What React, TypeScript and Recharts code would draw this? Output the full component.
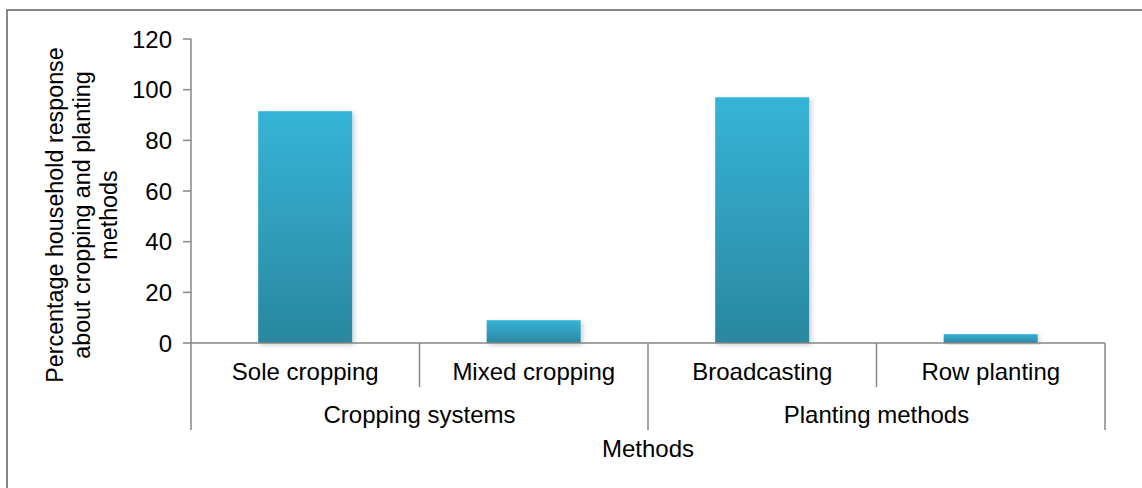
import { Bar, BarChart, XAxis, YAxis } from "recharts";

const categories = ["Sole cropping", "Mixed cropping", "Broadcasting", "Row planting"];
const groups = ["Cropping systems", "Cropping systems", "Planting methods", "Planting methods"];
const responses = [91.5, 9, 97, 3.5];
const yTicks = [0, 20, 40, 60, 80, 100, 120];
const yTitleLines = ["Percentage household response", "about cropping and planting", "methods"];

const data = categories.map((name, i) => ({ name, group: groups[i], value: responses[i] }));

const W = 1142;
const H = 488;
const PLOT_LEFT = 191;
const PLOT_RIGHT = 1105;
const PLOT_TOP = 39;
const PLOT_BOTTOM = 343;
const BAND = (PLOT_RIGHT - PLOT_LEFT) / categories.length;

const AXIS = "#868686";
const FONT = "'Liberation Sans', Arial, sans-serif";
const FS = 24;
const TITLE_FS = 23.3;

// two-level category axis: labels, group labels and the divider lines between them
function CategoryTick(props: any) {
  const { x, y, payload, index } = props;
  const left = x - BAND / 2;
  const startsGroup = index === 0 || groups[index] !== groups[index - 1];
  const isLast = index === categories.length - 1;
  let span = 0;
  if (startsGroup) {
    while (index + span < groups.length && groups[index + span] === groups[index]) span++;
  }
  return (
    <g>
      <text x={x} y={y + 37} textAnchor="middle" fontSize={FS} fill="#000" fontFamily={FONT}>
        {payload.value}
      </text>
      <line x1={left} x2={left} y1={y} y2={y + (startsGroup ? 87 : 44)} stroke={AXIS} strokeWidth={1.5} />
      {isLast && <line x1={left + BAND} x2={left + BAND} y1={y} y2={y + 87} stroke={AXIS} strokeWidth={1.5} />}
      {startsGroup && (
        <text x={left + (span * BAND) / 2} y={y + 80} textAnchor="middle" fontSize={FS} fill="#000" fontFamily={FONT}>
          {groups[index]}
        </text>
      )}
    </g>
  );
}

function YTitle() {
  const cy = 215;
  const baselines = [63, 90, 117];
  return (
    <g>
      {yTitleLines.map((line, i) => (
        <text
          key={line}
          x={baselines[i]}
          y={cy}
          transform={`rotate(-90, ${baselines[i]}, ${cy})`}
          textAnchor="middle"
          fontSize={TITLE_FS}
          fill="#000"
          fontFamily={FONT}
        >
          {line}
        </text>
      ))}
    </g>
  );
}

function ShadedBar(props: any) {
  const { x, y, width, height } = props;
  if (!height || height <= 0) return null;
  return <rect x={x} y={y} width={width} height={height} fill="url(#barGrad)" filter="url(#barShadow)" />;
}

export default function App() {
  return (
    <div style={{ position: "absolute", left: 0, top: 0, width: W, height: H, background: "#fff", fontFamily: FONT, overflow: "hidden" }}>
      <div
        style={{
          position: "absolute",
          left: 6,
          top: 9,
          width: W,
          height: H,
          borderTop: `2px solid ${AXIS}`,
          borderLeft: `2px solid ${AXIS}`,
        }}
      />
      <div style={{ position: "absolute", left: 0, top: 0 }}>
        <BarChart
          width={W}
          height={H}
          data={data}
          margin={{ top: PLOT_TOP, right: W - PLOT_RIGHT, bottom: 0, left: 0 }}
          barCategoryGap="29.4%"
        >
          <defs>
            <linearGradient id="barGrad" x1="0" y1="0" x2="0" y2="1">
              <stop offset="0%" stopColor="#36b4d7" />
              <stop offset="100%" stopColor="#2a879f" />
            </linearGradient>
            <filter id="barShadow" x="-20%" y="-20%" width="140%" height="140%">
              <feDropShadow dx="2" dy="2" stdDeviation="2.5" floodColor="#000" floodOpacity="0.2" />
            </filter>
          </defs>
          <XAxis
            dataKey="name"
            height={H - PLOT_BOTTOM}
            interval={0}
            tickSize={0}
            tickMargin={0}
            tickLine={false}
            axisLine={{ stroke: AXIS, strokeWidth: 1.5 }}
            tick={<CategoryTick />}
            label={{ value: "Methods", position: "insideBottom", offset: 31, fill: "#000", fontSize: FS, fontFamily: FONT }}
          />
          <YAxis
            width={PLOT_LEFT}
            domain={[0, 120]}
            ticks={yTicks}
            interval={0}
            tickSize={8}
            tickMargin={11}
            axisLine={{ stroke: AXIS, strokeWidth: 1.5 }}
            tickLine={{ stroke: AXIS, strokeWidth: 1.5 }}
            tick={{ fill: "#000", fontSize: FS, fontFamily: FONT }}
            label={<YTitle />}
          />
          <Bar dataKey="value" shape={<ShadedBar />} isAnimationActive={false} />
        </BarChart>
      </div>
    </div>
  );
}
